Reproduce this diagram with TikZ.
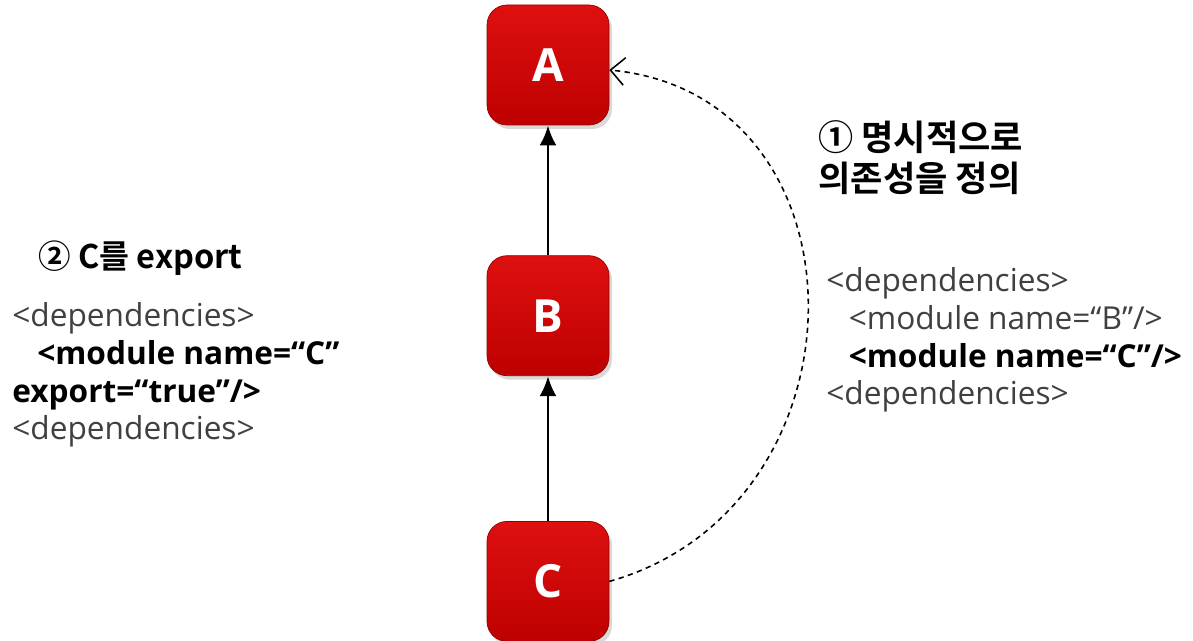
\documentclass[tikz,border=0pt]{standalone}
\usepackage{fontspec}
\setmainfont{Open Sans}
\newfontfamily\krfont{Noto Sans CJK KR}[BoldFont={Noto Sans CJK KR Bold}]
\usetikzlibrary{arrows.meta, positioning, shadows}
\definecolor{modtop}{RGB}{222,16,16}
\definecolor{modbot}{RGB}{190,0,0}
\definecolor{modedge}{RGB}{150,0,0}
\definecolor{codegray}{RGB}{64,64,64}

\begin{document}
\begin{tikzpicture}[
  module/.style = {draw=modedge, rounded corners=4mm, minimum width=24.4mm, minimum height=24mm,
    top color=modtop, bottom color=modbot, text=white, font=\fontsize{26}{30}\selectfont\bfseries,
    drop shadow={opacity=0.3, shadow xshift=0.6mm, shadow yshift=-0.8mm}},
  dep/.style = {line width=1.7pt, -{Latex[length=4mm, width=3.4mm]}},
  ref/.style = {line width=0.9pt, dash pattern=on 3pt off 2.5pt, -{Straight Barb[length=2.8mm, width=5.5mm]}},
  note/.style = {font=\krfont\fontsize{19}{23.3}\selectfont\bfseries, align=left, anchor=west, inner sep=0pt},
  code/.style = {font=\fontsize{18}{21.5}\selectfont, text=codegray, align=left, anchor=west, inner sep=0pt},
  node distance=2.6cm
]
\useasboundingbox (0,0) rectangle (23.86,-12.82);

%--------------------------------------------------
% modules
%--------------------------------------------------
\node[module] (A) at (10.96,-1.3) {A};
\node[module, below=2.6cm of A] (B) {B};
\node[module, below=2.9cm of B] (C) {C};

%--------------------------------------------------
% notes
%--------------------------------------------------
\node[note, font=\krfont\fontsize{20}{23.3}\selectfont\bfseries] (explicit) at (16.36,-3.15)
  {① 명시적으로\\의존성을 정의};
\node[code] (depsA) at (16.52,-6.8)
  {<dependencies>\\
   \hspace*{0.45cm}<module name=“B”/>\\
   \hspace*{0.45cm}{\color{black}\bfseries <module name=“C”/>}\\
   <dependencies>};

\node[note, font=\krfont\fontsize{18.5}{23}\selectfont\bfseries] (exportC) at (0.76,-5.16)
  {② C를 export};
\node[code] (depsB) at (0.24,-7.5)
  {<dependencies>\\
   \hspace*{0.5cm}{\color{black}\bfseries <module name=“C”}\\
   {\color{black}\bfseries export=“true”/>}\\
   <dependencies>};

%--------------------------------------------------
% connections
%--------------------------------------------------
\draw[dep] (B) -- (A);
\draw[dep] (C) -- (B);

% C defined directly in A
\draw[ref] (C.east) .. controls +(5.3,1.5) and +(5.3,-0.5) .. ([yshift=-1mm]A.east);

\end{tikzpicture}
\end{document}
